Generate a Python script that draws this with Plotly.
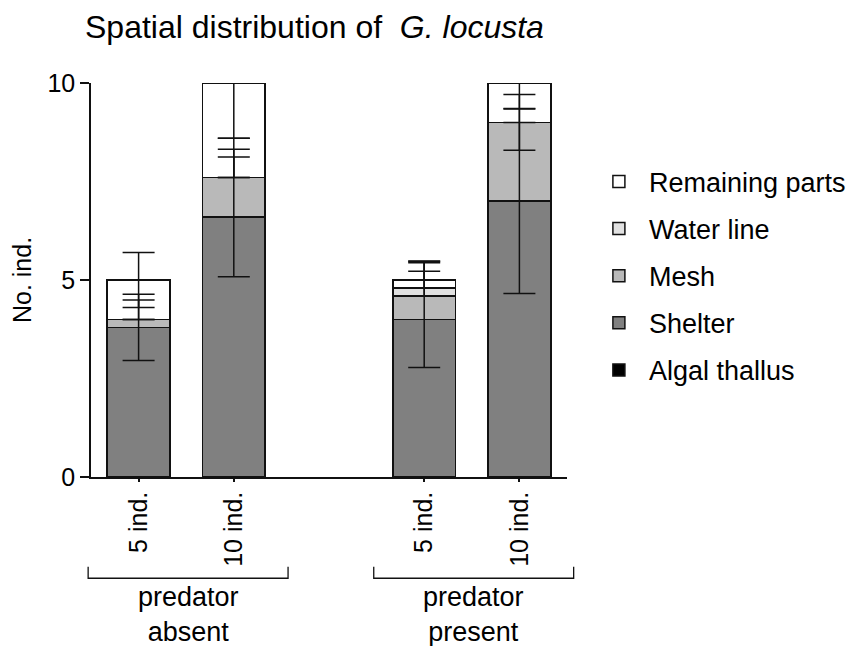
import plotly.graph_objects as go

# ---------------- data ----------------
title_main = "Spatial distribution of "
title_species = "G. locusta"
y_title = "No. ind."
groups = ["predator<br>absent", "predator<br>present"]
densities = ["5 ind.", "10 ind."]
y_ticks = [0, 5, 10]

series_names = ["Algal thallus", "Shelter", "Mesh", "Water line", "Remaining parts"]
# bar order: absent-5, absent-10, present-5, present-10
algal = [0.0, 0.0, 0.0, 0.0]
shelter = [3.8, 6.6, 4.0, 7.0]
mesh = [0.2, 1.0, 0.6, 2.0]
water = [0.0, 0.0, 0.2, 0.0]
remaining = [1.0, 2.4, 0.2, 1.0]

# error bars (upper / lower arms) of each segment
algal_err_up = [0.0, 0.0, 0.0, 0.0]
algal_err_dn = [0.0, 0.0, 0.0, 0.0]
shelter_err_up = [0.84, 1.52, 1.22, 2.34]
shelter_err_dn = [0.84, 1.52, 1.22, 2.34]
mesh_err_up = [0.49, 0.72, 0.88, 0.71]
mesh_err_dn = [0.0, 0.0, 0.0, 0.71]
water_err_up = [0.0, 1.0, 0.64, 0.0]
water_err_dn = [0.0, 0.0, 0.0, 0.0]
remaining_err_up = [0.70, 0.0, 0.47, 0.0]
remaining_err_dn = [0.70, 1.40, 0.0, 0.65]

series_values = [algal, shelter, mesh, water, remaining]
series_err_up = [algal_err_up, shelter_err_up, mesh_err_up, water_err_up, remaining_err_up]
series_err_dn = [algal_err_dn, shelter_err_dn, mesh_err_dn, water_err_dn, remaining_err_dn]
series_colors = ["#000000", "#808080", "#b9b9b9", "#e1e1e1", "#ffffff"]

# ---------------- positions ----------------
group_step = len(densities) + 1
x_pos = [g * group_step + d for g in range(len(groups)) for d in range(len(densities))]
tick_text = [densities[d] for g in range(len(groups)) for d in range(len(densities))]
x_min, x_max = -0.5, x_pos[-1] + 0.5

FONT = "Arial, 'Liberation Sans', Helvetica, sans-serif"
INK = "#111111"

# the page places the figure 8 px in from the top-left corner
OFF = 8
W, H = 854 - OFF, 646 - OFF

fig = go.Figure()
n_series = len(series_names)
for i, (name, vals, col) in enumerate(zip(series_names, series_values, series_colors)):
    fig.add_trace(go.Bar(
        x=x_pos, y=vals, name=name, width=0.66, legendgroup=name,
        legendrank=1000 + (n_series - i),
        marker=dict(color=col, line=dict(color=INK, width=1.5)),
    ))

# error bars drawn on top of all the stacked segments, at each segment's top
tops = [0.0] * len(x_pos)
for name, vals, eu, ed in zip(series_names, series_values, series_err_up, series_err_dn):
    tops = [t + v for t, v in zip(tops, vals)]
    if not any(eu) and not any(ed):
        continue
    fig.add_trace(go.Scatter(
        x=x_pos, y=tops, mode="markers", showlegend=False, hoverinfo="skip",
        legendgroup=name, marker=dict(size=1, color="rgba(0,0,0,0)"),
        error_y=dict(type="data", symmetric=False, array=eu, arrayminus=ed,
                     color=INK, thickness=1.5, width=16),
    ))

def xp(x):
    return (x - x_min) / (x_max - x_min)

shapes = []
annotations = []
for g, label in enumerate(groups):
    members = x_pos[g * len(densities):(g + 1) * len(densities)]
    c = sum(members) / len(members) + 0.02
    a, b = xp(c - 1.05), xp(c + 1.05)
    shapes.append(dict(type="path", xref="paper", yref="paper",
                       path=f"M {a},-0.228 V -0.257 H {b} V -0.228",
                       line=dict(color=INK, width=1.3)))
    annotations.append(dict(text=label, x=xp(c), y=-0.35, xref="paper", yref="paper",
                            showarrow=False, xanchor="center", yanchor="middle",
                            font=dict(family=FONT, size=27, color="#000")))

fig.update_layout(
    width=W, height=H,
    margin=dict(l=91 - OFF, r=287, t=83 - OFF, b=169, autoexpand=False),
    paper_bgcolor="white", plot_bgcolor="white",
    barmode="stack",
    font=dict(family=FONT, color="#000"),
    title=dict(text=f"{title_main} <i>{title_species}</i>", x=(85 - OFF) / W, xanchor="left",
               xref="container", y=1 - (27 - OFF) / H, yanchor="middle", yref="container",
               font=dict(family=FONT, size=32, color="#000")),
    xaxis=dict(range=[x_min, x_max], tickvals=x_pos, ticktext=tick_text,
               tickangle=-90, showline=True, linecolor=INK, linewidth=1.5,
               ticks="outside", ticklen=3, tickwidth=1.5, tickcolor=INK,
               showgrid=False, zeroline=False,
               tickfont=dict(family=FONT, size=25, color="#000")),
    yaxis=dict(range=[0, 10], tickvals=y_ticks, showline=True, linecolor=INK,
               linewidth=1.5, ticks="outside", ticklen=9, tickwidth=1.5,
               tickcolor=INK, showgrid=False, zeroline=False,
               tickfont=dict(family=FONT, size=25, color="#000"),
               title=dict(text=y_title, standoff=14,
                          font=dict(family=FONT, size=25, color="#000"))),
    legend=dict(x=1.046, xanchor="left", y=0.811, yanchor="top",
                traceorder="grouped", tracegroupgap=9, itemwidth=50,
                font=dict(family=FONT, size=27, color="#000"),
                bgcolor="rgba(0,0,0,0)"),
    shapes=shapes, annotations=annotations,
)

fig.write_html("out.html")
